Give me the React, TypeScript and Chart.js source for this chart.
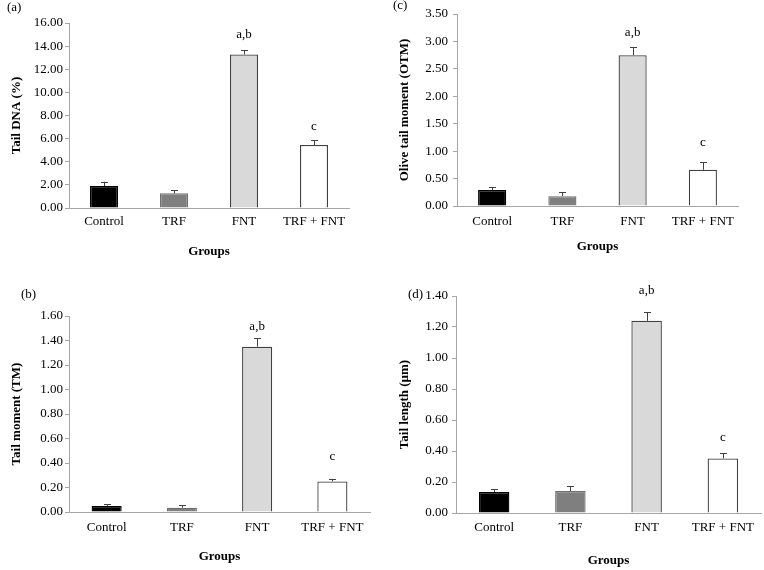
import React, { useEffect, useRef } from "react";
import { Chart, registerables } from "chart.js";

Chart.register(...registerables);

// ---------- data ----------
const groups = ["Control", "TRF", "FNT", "TRF + FNT"];
const sigLetters = ["", "", "a,b", "c"];

const tailDnaValues = [1.9, 1.27, 13.28, 5.45];
const tailDnaErrors = [0.37, 0.27, 0.38, 0.4];

const oliveValues = [0.29, 0.18, 2.75, 0.66];
const oliveErrors = [0.05, 0.07, 0.14, 0.14];

const tailMomentValues = [0.05, 0.035, 1.35, 0.25];
const tailMomentErrors = [0.012, 0.02, 0.07, 0.02];

const tailLengthValues = [0.135, 0.142, 1.24, 0.352];
const tailLengthErrors = [0.02, 0.03, 0.055, 0.035];

// ---------- styles ----------
const FONT = '"Liberation Serif", "Times New Roman", serif';
const barFill = ["#000000", "#7f7f7f", "#d9d9d9", "#ffffff"];
const barBorder = ["#000000", "#6f6f6f", "#404040", "#404040"];
const AXIS = "#a6a6a6";
const ERR = "#404040";

type Panel = {
  tag: string;
  yTitle: string;
  values: number[];
  errors: number[];
  yMax: number;
  yStep: number;
  box: { x: number; y: number; w: number; h: number };
  area: { l: number; r: number; t: number; b: number };
  yTitlePad: number;
  yTickPad: number;
  xTickPad: number;
  xTitlePad: number;
  tagPos: [number, number];
  letterGap: number[];
};

const panels: Panel[] = [
  {
    tag: "(a)",
    yTitle: "Tail DNA (%)",
    values: tailDnaValues,
    errors: tailDnaErrors,
    yMax: 16,
    yStep: 2,
    box: { x: 0, y: 0, w: 380, h: 265 },
    area: { l: 69, r: 349, t: 23, b: 208 },
    yTitlePad: 9,
    yTickPad: 2,
    xTickPad: 6,
    xTitlePad: 6,
    tagPos: [7, 8],
    letterGap: [0, 0, 15, 14],
  },
  {
    tag: "(c)",
    yTitle: "Olive tail moment (OTM)",
    values: oliveValues,
    errors: oliveErrors,
    yMax: 3.5,
    yStep: 0.5,
    box: { x: 380, y: 0, w: 384, h: 265 },
    area: { l: 77, r: 358, t: 14, b: 206 },
    yTitlePad: 17,
    yTickPad: 5,
    xTickPad: 8,
    xTitlePad: 11,
    tagPos: [13, 6],
    letterGap: [0, 0, 15, 20],
  },
  {
    tag: "(b)",
    yTitle: "Tail moment (TM)",
    values: tailMomentValues,
    errors: tailMomentErrors,
    yMax: 1.6,
    yStep: 0.2,
    box: { x: 0, y: 270, w: 380, h: 300 },
    area: { l: 69, r: 370, t: 46, b: 242 },
    yTitlePad: 9,
    yTickPad: 2,
    xTickPad: 8,
    xTitlePad: 6,
    tagPos: [21, 25],
    letterGap: [0, 0, 11, 22],
  },
  {
    tag: "(d)",
    yTitle: "Tail length (µm)",
    values: tailLengthValues,
    errors: tailLengthErrors,
    yMax: 1.4,
    yStep: 0.2,
    box: { x: 380, y: 270, w: 384, h: 300 },
    area: { l: 76, r: 381, t: 26, b: 243 },
    yTitlePad: 17,
    yTickPad: 4,
    xTickPad: 7,
    xTitlePad: 2,
    tagPos: [28, 25],
    letterGap: [0, 0, 22, 15],
  },
];

function PanelChart({ p }: { p: Panel }) {
  const ref = useRef<HTMLCanvasElement | null>(null);

  useEffect(() => {
    if (!ref.current) return;

    const overlay = {
      id: "overlay",
      afterDatasetsDraw(chart: any) {
        const ctx = chart.ctx;
        const meta = chart.getDatasetMeta(0);
        const ys = chart.scales.y;
        ctx.save();
        // error bars (upper whisker only)
        ctx.strokeStyle = ERR;
        ctx.lineWidth = 1;
        meta.data.forEach((bar: any, i: number) => {
          const x = Math.round(bar.x) + 0.5;
          const yTop = ys.getPixelForValue(p.values[i] + p.errors[i]);
          const yBar = ys.getPixelForValue(p.values[i]);
          ctx.beginPath();
          ctx.moveTo(x, yBar);
          ctx.lineTo(x, yTop);
          ctx.moveTo(x - 3.5, Math.round(yTop) + 0.5);
          ctx.lineTo(x + 3.5, Math.round(yTop) + 0.5);
          ctx.stroke();
        });
        // significance letters
        ctx.fillStyle = "#000";
        ctx.font = `13px ${FONT}`;
        ctx.textAlign = "center";
        ctx.textBaseline = "middle";
        meta.data.forEach((bar: any, i: number) => {
          if (!sigLetters[i]) return;
          const yTop = ys.getPixelForValue(p.values[i] + p.errors[i]);
          ctx.fillText(sigLetters[i], bar.x, yTop - p.letterGap[i]);
        });
        // panel tag
        ctx.textAlign = "left";
        ctx.fillText(p.tag, p.tagPos[0], p.tagPos[1]);
        ctx.restore();
      },
    };

    const chart = new Chart(ref.current, {
      type: "bar",
      data: {
        labels: groups,
        datasets: [
          {
            data: p.values,
            backgroundColor: barFill,
            borderColor: barBorder,
            borderWidth: 1.3,
            borderSkipped: "bottom",
            categoryPercentage: 1,
            barPercentage: 0.4,
          },
        ],
      },
      options: {
        responsive: false,
        animation: false,
        devicePixelRatio: 1,
        layout: {
          padding: {
            left: 0,
            top: p.area.t,
            right: p.box.w - p.area.r,
            bottom: 0,
          },
        },
        plugins: {
          legend: { display: false },
          tooltip: { enabled: false },
        },
        scales: {
          x: {
            type: "category",
            grid: { display: false, drawTicks: false },
            border: { display: true, color: AXIS, width: 1 },
            ticks: {
              color: "#000",
              font: { family: FONT, size: 13 },
              padding: p.xTickPad,
              maxRotation: 0,
              autoSkip: false,
            },
            title: {
              display: true,
              text: "Groups",
              color: "#000",
              font: { family: FONT, size: 13, weight: "bold" },
              padding: { top: 0, bottom: p.xTitlePad },
            },
            afterFit(scale: any) {
              scale.height = p.box.h - p.area.b;
            },
          },
          y: {
            type: "linear",
            min: 0,
            max: p.yMax,
            grid: {
              display: true,
              drawOnChartArea: false,
              drawTicks: true,
              tickLength: 4,
              color: AXIS,
            },
            border: { display: true, color: AXIS, width: 1 },
            ticks: {
              stepSize: p.yStep,
              color: "#000",
              font: { family: FONT, size: 13 },
              padding: p.yTickPad,
              callback: (v: any) => Number(v).toFixed(2),
            },
            title: {
              display: true,
              text: p.yTitle,
              color: "#000",
              font: { family: FONT, size: 13, weight: "bold" },
              padding: { top: p.yTitlePad, bottom: 0 },
            },
            afterFit(scale: any) {
              scale.width = p.area.l;
            },
          },
        },
      },
      plugins: [overlay],
    } as any);

    return () => chart.destroy();
  }, [p]);

  return (
    <canvas
      ref={ref}
      width={p.box.w}
      height={p.box.h}
      style={{
        position: "absolute",
        left: p.box.x,
        top: p.box.y,
        width: p.box.w,
        height: p.box.h,
      }}
    />
  );
}

export default function App() {
  return (
    <div
      style={{
        position: "fixed",
        left: 0,
        top: 0,
        width: 764,
        height: 570,
        background: "#ffffff",
        overflow: "hidden",
      }}
    >
      {panels.map((p) => (
        <PanelChart key={p.tag} p={p} />
      ))}
    </div>
  );
}
